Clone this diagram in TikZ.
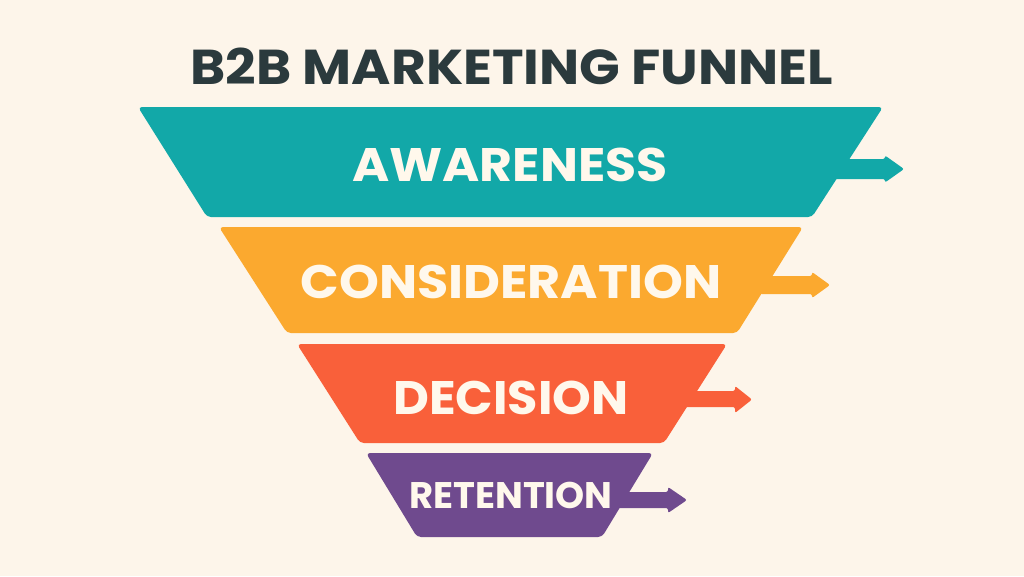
\documentclass[tikz,border=0pt]{standalone}
\usepackage{fontspec}
\setmainfont{Poppins}[BoldFont={* Bold}]
\definecolor{bg}{HTML}{FDF5EA}
\definecolor{titlec}{HTML}{2B3A3D}
\definecolor{teal1}{HTML}{12A8A8}
\definecolor{orange1}{HTML}{FBA92F}
\definecolor{red1}{HTML}{F9603A}
\definecolor{purple1}{HTML}{6F4A8E}
\definecolor{cream}{HTML}{FFF8EC}
\begin{document}
\begin{tikzpicture}[x=1pt,y=-1pt,
  band/.style={rounded corners=4pt},
  lbl/.style={anchor=base,text=cream,font=\bfseries,inner sep=0pt},
]
\fill[bg] (0,0) rectangle (1024,576);
\useasboundingbox (0,0) rectangle (1024,576);
\node[anchor=base,text=titlec,font=\fontsize{49}{50}\selectfont\bfseries,inner sep=0pt] (title) at (512,84) {\scalebox{1.09}[1]{B2B MARKETING FUNNEL}};
% band 1
\fill[teal1,rounded corners=2pt] (820,159) -- (885,159) -- (885,155.5) -- (904,169) -- (885,182.5) -- (885,179) -- (820,179) -- cycle;
\fill[teal1,band] (138,107) -- (883,107) -- (812,217) -- (207,217) -- cycle;
\node[lbl,font=\fontsize{47}{48}\selectfont\bfseries] (aw) at (510,181) {\scalebox{1.075}[1]{AWARENESS}};
% band 2
\fill[orange1,rounded corners=2pt] (760,276) -- (812,276) -- (812,272) -- (830,285) -- (812,298) -- (812,294) -- (760,294) -- cycle;
\fill[orange1,band] (219,227) -- (803,227) -- (737,333) -- (287,333) -- cycle;
\node[lbl,font=\fontsize{47}{48}\selectfont\bfseries] (co) at (511,298) {\scalebox{1.08}[1]{CONSIDERATION}};
% band 3
\fill[red1,rounded corners=2pt] (680,391) -- (735,391) -- (735,386) -- (752,399.5) -- (735,413) -- (735,407) -- (680,407) -- cycle;
\fill[red1,band] (297,344) -- (727,344) -- (664,443) -- (360,443) -- cycle;
\node[lbl,font=\fontsize{47}{48}\selectfont\bfseries] (de) at (511,414) {\scalebox{1.05}[1]{DECISION}};
% band 4
\fill[purple1,rounded corners=2pt] (610,492) -- (668,492) -- (668,487) -- (687,500) -- (668,513) -- (668,508) -- (610,508) -- cycle;
\fill[purple1,band] (366,453) -- (653,453) -- (602,537) -- (417,537) -- cycle;
\node[lbl,font=\fontsize{37}{38}\selectfont\bfseries] (re) at (511,508) {RETENTION};
\end{tikzpicture}
\end{document}
